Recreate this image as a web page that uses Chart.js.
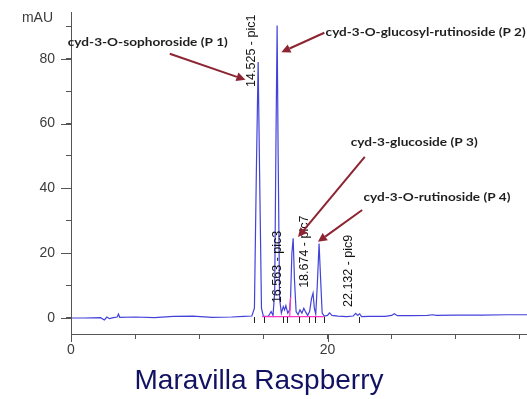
<!DOCTYPE html>
<html>
<head>
<meta charset="utf-8">
<script src="https://cdn.jsdelivr.net/npm/chart.js@4/dist/chart.umd.min.js"></script>
<style>
  html, body { margin: 0; padding: 0; background: #fff; }
  canvas { display: block; }
</style>
</head>
<body>
<canvas id="chrom" width="527" height="399"></canvas>
<script>
// retention time (min) and absorbance (mAU) of the trace
const traceTime = [0.05, 1, 2.3, 2.6, 2.8, 3.0, 3.3, 3.6, 3.7, 3.8, 5, 6.5, 8, 9.5, 11, 12.5, 13.5, 14.1,
  14.3, 14.45, 14.59, 14.72, 14.85, 15.0, 15.4, 15.6, 15.75, 15.88, 15.98, 16.07, 16.15, 16.26, 16.4,
  16.55, 16.65, 16.75, 16.9, 17.05, 17.12, 17.22, 17.32, 17.42, 17.55, 17.7, 17.85, 18.0, 18.15, 18.3,
  18.45, 18.6, 18.75, 18.87, 18.97, 19.08, 19.2, 19.34, 19.46, 19.58, 19.75, 20.0, 20.15, 20.35, 20.8,
  21.5, 22.0, 22.2, 22.35, 22.5, 22.65, 23.2, 24.5, 25.0, 25.2, 25.45, 26.5, 27.8, 28.2, 28.5, 30, 32, 34, 35.6];
const traceAbs = [0, 0, 0.1, -0.6, 0.3, -0.2, 0.1, 0.3, 1.2, 0.2, 0.3, 0.1, 0.5, 0.6, 0.2, 0.3, 0.5, 0.6,
  3, 45, 79, 40, 3, 0.5, 0.6, 2, 0.8, 8, 55, 90.2, 50, 6, 1.5,
  3.5, 2.5, 3.8, 1.5, 2.5, 6.5, 20, 24.6, 12, 2, 1, 2.5, 1.5, 3, 1.8,
  0.8, 2, 6, 7.7, 3, 1.2, 10, 23, 12, 1.5, 0.6, 0.8, 1.6, 0.8, 0.6,
  0.4, 0.6, 1.4, 0.8, 1.3, 0.4, 0.5, 0.5, 0.8, 1.3, 0.7, 0.7, 0.8, 1.0, 0.8, 0.9, 0.9, 1.0, 1.0];

// integration baseline (null splits the segments)
const baseTime = [14.9, 19.75, null, 17.05, 17.12];
const baseAbs = [0.4, 0.4, null, 0.4, 6.5];

// peak start/end markers
const markTime = [14.3, 15.05, 16.5, 16.85, 17.75, 18.55, 19.05, 19.7, 22.45];

// peak labels from the integrator
const peakRt = [14.525, 16.563, 18.674, 22.132];
const peakName = ['pic1', 'pic3', 'pic7', 'pic9'];
const peakLabelFrom = [71.3, 4.6, 9.3, 3.4];

// compound names with arrows (minutes / mAU)
const compounds = ['cyd-3-O-sophoroside (P 1)', 'cyd-3-O-glucosyl-rutinoside (P 2)',
  'cyd-3-glucoside (P 3)', 'cyd-3-O-rutinoside (P 4)'];
const textAt = [[-0.25, 85.2], [19.85, 88.2], [21.8, 54.3], [22.8, 37.3]];
const textWidth = [160, 200, 127, 147];
const arrowFrom = [[7.7, 81.5], [19.75, 88.0], [22.9, 49.7], [22.7, 33.3]];
const arrowTo = [[13.6, 73.5], [16.4, 82.0], [17.7, 25.0], [19.25, 23.5]];

const xMajor = [0, 20];
const yMajor = [0, 20, 40, 60, 80];

const tracePts = traceTime.map((t, i) => ({x: t, y: traceAbs[i]}));
const basePts = baseTime.map((t, i) => ({x: t, y: baseAbs[i]}));

const AXIS = '#555555';

const extras = {
  id: 'extras',
  afterDatasetsDraw(chart) {
    const {ctx, chartArea: a, scales: {x, y}} = chart;
    ctx.save();

    // longer ticks for the labelled values
    ctx.strokeStyle = AXIS;
    ctx.lineWidth = 1;
    ctx.beginPath();
    yMajor.forEach(v => {
      const py = Math.round(y.getPixelForValue(v)) + 0.5;
      ctx.moveTo(a.left - 10, py); ctx.lineTo(a.left, py);
    });
    xMajor.forEach(v => {
      const px = Math.round(x.getPixelForValue(v)) + 0.5;
      ctx.moveTo(px, a.bottom); ctx.lineTo(px, a.bottom + 8);
    });
    ctx.stroke();

    // peak start/end markers
    ctx.strokeStyle = '#222';
    ctx.beginPath();
    markTime.forEach(t => {
      const px = Math.round(x.getPixelForValue(t)) + 0.5;
      const py = y.getPixelForValue(0);
      ctx.moveTo(px, py - 1); ctx.lineTo(px, py + 5);
    });
    ctx.stroke();

    // vertical peak labels
    ctx.fillStyle = '#111';
    ctx.font = '12.5px "Liberation Sans", Arial, sans-serif';
    ctx.textAlign = 'left';
    ctx.textBaseline = 'bottom';
    peakRt.forEach((rt, i) => {
      ctx.save();
      ctx.translate(x.getPixelForValue(rt), y.getPixelForValue(peakLabelFrom[i]));
      ctx.rotate(-Math.PI / 2);
      ctx.fillText(rt.toFixed(3) + ' - ' + peakName[i], 0, 0);
      ctx.restore();
    });

    // arrows
    ctx.strokeStyle = '#8c2432';
    ctx.fillStyle = '#8c2432';
    ctx.lineWidth = 2;
    arrowFrom.forEach((f, i) => {
      const x0 = x.getPixelForValue(f[0]), y0 = y.getPixelForValue(f[1]);
      const x1 = x.getPixelForValue(arrowTo[i][0]), y1 = y.getPixelForValue(arrowTo[i][1]);
      const ang = Math.atan2(y1 - y0, x1 - x0);
      const hl = 9, hw = 4.5;
      const bx = x1 - hl * Math.cos(ang), by = y1 - hl * Math.sin(ang);
      ctx.beginPath();
      ctx.moveTo(x0, y0); ctx.lineTo(bx, by);
      ctx.stroke();
      ctx.beginPath();
      ctx.moveTo(x1, y1);
      ctx.lineTo(bx + hw * Math.sin(ang), by - hw * Math.cos(ang));
      ctx.lineTo(bx - hw * Math.sin(ang), by + hw * Math.cos(ang));
      ctx.closePath();
      ctx.fill();
    });

    // compound names, squeezed to their box width
    ctx.fillStyle = '#1e1e1e';
    ctx.font = 'bold 12px Lato, "Open Sans", sans-serif';
    ctx.textAlign = 'left';
    ctx.textBaseline = 'middle';
    compounds.forEach((c, i) => {
      const k = textWidth[i] / ctx.measureText(c).width;
      ctx.save();
      ctx.translate(x.getPixelForValue(textAt[i][0]), y.getPixelForValue(textAt[i][1]));
      ctx.scale(k, 1);
      ctx.fillText(c, 0, 0);
      ctx.restore();
    });

    // unit and sample name
    ctx.fillStyle = '#3b3b3b';
    ctx.font = '14px "Liberation Sans", Arial, sans-serif';
    ctx.textAlign = 'right';
    ctx.fillText('mAU', a.left - 18, a.top + 6);

    ctx.fillStyle = '#121262';
    ctx.font = '28px "Liberation Sans", Arial, sans-serif';
    ctx.textAlign = 'center';
    ctx.fillText('Maravilla Raspberry', 259, 381);
    ctx.restore();
  }
};

new Chart(document.getElementById('chrom'), {
  type: 'line',
  data: {
    datasets: [
      {
        data: basePts,
        borderColor: '#ff33c4',
        borderWidth: 1.2,
        pointRadius: 0,
        spanGaps: false
      },
      {
        data: tracePts,
        borderColor: 'rgba(45,45,215,0.9)',
        borderWidth: 1.2,
        pointRadius: 0,
        tension: 0
      }
    ]
  },
  options: {
    responsive: false,
    animation: false,
    layout: { padding: { top: 12, right: 0, left: 0, bottom: 0 } },
    plugins: { legend: { display: false }, tooltip: { enabled: false } },
    scales: {
      x: {
        type: 'linear',
        min: 0,
        max: 35.55,
        afterFit(s) { s.height = 65; s.paddingLeft = 0; s.paddingRight = 0; },
        border: { color: AXIS, width: 1 },
        grid: { drawOnChartArea: false, tickLength: 5, color: AXIS },
        ticks: {
          stepSize: 5,
          includeBounds: false,
          maxRotation: 0,
          autoSkip: false,
          padding: 3,
          color: '#3b3b3b',
          font: { family: '"Liberation Sans", Arial, sans-serif', size: 14 },
          callback: v => (v % 20 === 0 ? v : '')
        }
      },
      y: {
        min: -4.94,
        max: 94.4,
        afterFit(s) { s.width = 71; s.paddingTop = 0; s.paddingBottom = 0; },
        border: { color: AXIS, width: 1 },
        grid: { drawOnChartArea: false, tickLength: 5, color: AXIS },
        ticks: {
          stepSize: 10,
          includeBounds: false,
          autoSkip: false,
          padding: 11,
          color: '#3b3b3b',
          font: { family: '"Liberation Sans", Arial, sans-serif', size: 14 },
          callback: v => (v % 20 === 0 ? v : '')
        }
      }
    }
  },
  plugins: [extras]
});
</script>
</body>
</html>
